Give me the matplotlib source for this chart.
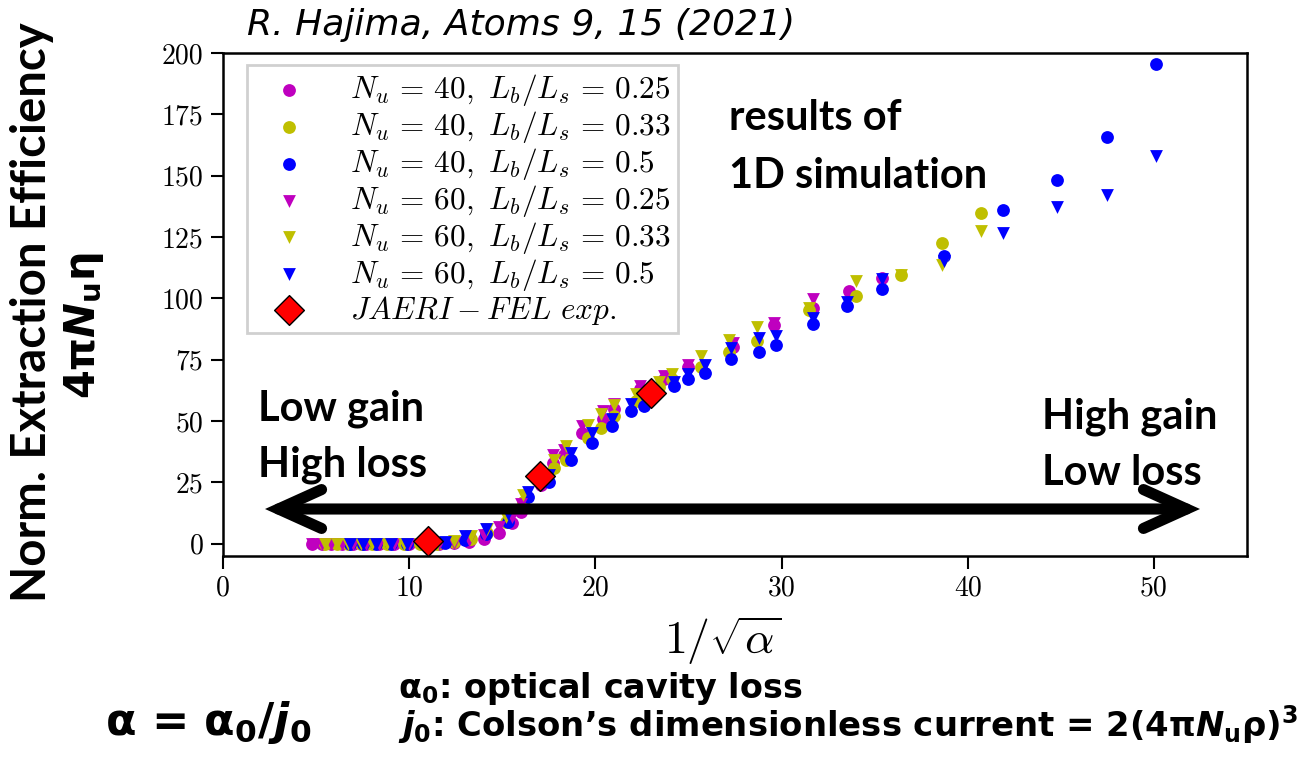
import matplotlib
matplotlib.use("Agg")
import matplotlib.pyplot as plt
from matplotlib.font_manager import FontProperties
from matplotlib.patches import FancyArrowPatch

# data (x = 1/sqrt(alpha), y = 4 pi N_u eta)
x_m = [4.8, 5.3, 5.8, 6.4, 7.0, 7.7, 8.4, 9.2, 10.0, 10.8, 11.6, 12.4, 13.2, 14.0, 14.8, 15.5,
       16.0, 17.1, 17.7, 18.3, 19.3, 20.4, 21.0, 22.4, 23.7, 25.0, 27.4, 29.6, 31.7, 33.6, 35.4]
y_m40 = [0, 0, 0, 0, 0, 0, 0, 0, 0, 0, 0, 0.3, 0.8, 2.0, 4.5, 8.5,
         13, 24, 33, 36, 45, 51, 55, 63, 67, 72, 80, 89, 96, 102.9, 108.4]
x_m60 = x_m[:-2]
y_m60 = [0, 0, 0, 0, 0, 0, 0, 0, 0, 0, 0, 0.5, 1.5, 3.5, 7, 11,
         16, 27, 36, 38, 48, 54, 57, 64.2, 68.2, 73, 82, 90, 99.8]

x_y = [5.5, 6.1, 6.7, 7.4, 8.0, 8.8, 9.7, 10.6, 11.5, 12.4, 13.3, 14.2, 15.2, 16.1, 17.0, 17.8,
       18.4, 19.6, 20.3, 21.0, 22.2, 23.4, 24.1, 25.7, 27.2, 28.7, 31.5, 34.0, 36.4, 38.6, 40.7]
y_y40 = [0, 0, 0, 0, 0, 0, 0, 0, 0, 0.6, 2, 4.5, 9, 17, 25, 31,
         34, 43, 47, 52, 58, 64, 67, 72, 78, 82.5, 95.2, 100.9, 109.7, 122.7, 134.9]
y_y60 = [0, 0, 0, 0, 0, 0, 0, 0, 0, 1, 3, 6, 11, 20, 28, 34,
         40, 48.5, 53, 56.7, 61, 66, 69, 76.4, 82.9, 88.4, 96, 107, 109.7, 113.8, 127.4]

x_b = [6.8, 7.5, 8.2, 9.0, 9.9, 10.9, 11.9, 13.0, 14.1, 15.3, 16.4, 17.5, 18.7, 19.8, 20.9, 21.9,
       22.6, 24.2, 25.0, 25.9, 27.3, 28.8, 29.7, 31.7, 33.5, 35.4, 38.7, 41.9, 44.8, 47.5, 50.1]
y_b40 = [0, 0, 0, 0, 0, 0, 0.3, 1.5, 4, 9, 19, 25, 34, 41, 48, 54,
         56, 64.2, 67, 69.6, 75.1, 78, 80.8, 89.7, 97, 103.9, 117.2, 136, 148.1, 165.9, 195.7]
y_b60 = [0, 0, 0, 0, 0, 0, 0.8, 3, 6, 12, 21, 28, 37, 45, 51, 57,
         59, 66, 69, 73, 79.8, 84, 84.8, 92.1, 98.4, 107.7, 115.2, 126.7, 137.2, 142, 158]

x_exp = [11, 17, 23]
y_exp = [1, 27.5, 61.5]

labels = [r'$N_u\,=\,40,\ L_b/L_s\,=\,0.25$', r'$N_u\,=\,40,\ L_b/L_s\,=\,0.33$',
          r'$N_u\,=\,40,\ L_b/L_s\,=\,0.5$', r'$N_u\,=\,60,\ L_b/L_s\,=\,0.25$',
          r'$N_u\,=\,60,\ L_b/L_s\,=\,0.33$', r'$N_u\,=\,60,\ L_b/L_s\,=\,0.5$',
          r'$JAERI-FEL\ exp.$']

plt.rcParams['mathtext.fontset'] = 'custom'
plt.rcParams['mathtext.rm'] = 'DejaVu Sans:bold'
plt.rcParams['mathtext.it'] = 'DejaVu Sans:italic:bold'
plt.rcParams['mathtext.bf'] = 'DejaVu Sans:bold'

W, H = 1315, 775
fig = plt.figure(figsize=(W / 100, H / 100), dpi=100)
ax = fig.add_axes([223 / W, 1 - 556 / H, (1247 - 223) / W, (556 - 53) / H])


def fx(px):
    return px / W


def fy(py):
    return 1 - py / H


s = 85
ax.scatter(x_m, y_m40, s=s, marker='o', color='m', lw=0, label=labels[0])
ax.scatter(x_y, y_y40, s=s, marker='o', color='y', lw=0, label=labels[1])
ax.scatter(x_b, y_b40, s=s, marker='o', color='b', lw=0, label=labels[2])
ax.scatter(x_m60, y_m60, s=s, marker='v', color='m', lw=0, label=labels[3])
ax.scatter(x_y, y_y60, s=s, marker='v', color='y', lw=0, label=labels[4])
ax.scatter(x_b, y_b60, s=s, marker='v', color='b', lw=0, label=labels[5])
ax.scatter(x_exp, y_exp, s=230, marker='D', color='red', edgecolor='black', lw=1,
           label=labels[6], zorder=5)

ax.set_xlim(0, 55)
ax.set_ylim(-5, 200)
ax.set_xticks(range(0, 51, 10))
ax.set_yticks(range(0, 201, 25))
ax.tick_params(direction='out', length=9, width=1.5, labelsize=20, pad=5,
               labelfontfamily='cmr10')
for sp in ax.spines.values():
    sp.set_linewidth(1.8)

leg = ax.legend(loc='upper left', bbox_to_anchor=(0.023, 0.976), borderaxespad=0,
                prop=FontProperties(size=22.5, math_fontfamily='cm'), scatterpoints=1,
                handlelength=2.3, handletextpad=0.8, labelspacing=0.03, borderpad=0.22,
                fancybox=False, framealpha=1, edgecolor='#d0d0d0')
leg.get_frame().set_linewidth(2)

# x label in computer modern
fig.text(fx(723), fy(641), r'$1/\sqrt{\alpha}$', fontsize=33, ha='center', va='center',
         math_fontfamily='cm')

# slide annotations
lato = dict(family=['Lato', 'DejaVu Sans'], fontweight='bold', color='black')
dvs = dict(family='DejaVu Sans', fontweight='bold', color='black')
fig.text(fx(32), fy(312), 'Norm. Extraction Efficiency', fontsize=34, rotation=90,
         ha='center', va='center', **lato)
fig.text(fx(84), fy(326), r'$\mathrm{4\pi}N_\mathrm{u}\mathrm{\eta}$', fontsize=30,
         rotation=90, ha='center', va='center', **dvs)

fig.text(fx(247), fy(35), 'R. Hajima, Atoms 9, 15 (2021)', fontsize=26, style='italic',
         family='DejaVu Sans', ha='left', va='baseline')

fig.text(fx(729), fy(130), 'results of', fontsize=30, ha='left', va='baseline', **lato)
fig.text(fx(729), fy(188), '1D simulation', fontsize=30, ha='left', va='baseline', **lato)
fig.text(fx(258), fy(420), 'Low gain', fontsize=30, ha='left', va='baseline', **lato)
fig.text(fx(258), fy(477), 'High loss', fontsize=30, ha='left', va='baseline', **lato)
fig.text(fx(1042), fy(428), 'High gain', fontsize=30, ha='left', va='baseline', **lato)
fig.text(fx(1042), fy(485), 'Low loss', fontsize=30, ha='left', va='baseline', **lato)

arrow = FancyArrowPatch((fx(265), fy(509)), (fx(1200), fy(509)), transform=fig.transFigure,
                        arrowstyle='<->,head_length=3.1,head_width=1.4', mutation_scale=10,
                        lw=8, color='black', capstyle='round', joinstyle='miter',
                        shrinkA=0, shrinkB=0, zorder=10)
fig.add_artist(arrow)

fig.text(fx(105), fy(735), r'$\mathrm{\alpha}$ = $\mathrm{\alpha}_0/j_0$', fontsize=32,
         ha='left', va='baseline', **dvs)
fig.text(fx(398), fy(698), r'$\mathrm{\alpha}_0$: optical cavity loss', fontsize=24,
         ha='left', va='baseline', **dvs)
fig.text(fx(398), fy(737),
         r'$j_0$: Colson’s dimensionless current = 2(4$\mathrm{\pi}N_\mathrm{u}\mathrm{\rho})^3$',
         fontsize=24.4, ha='left', va='baseline', **dvs)

fig.savefig('out.png', dpi=100)
